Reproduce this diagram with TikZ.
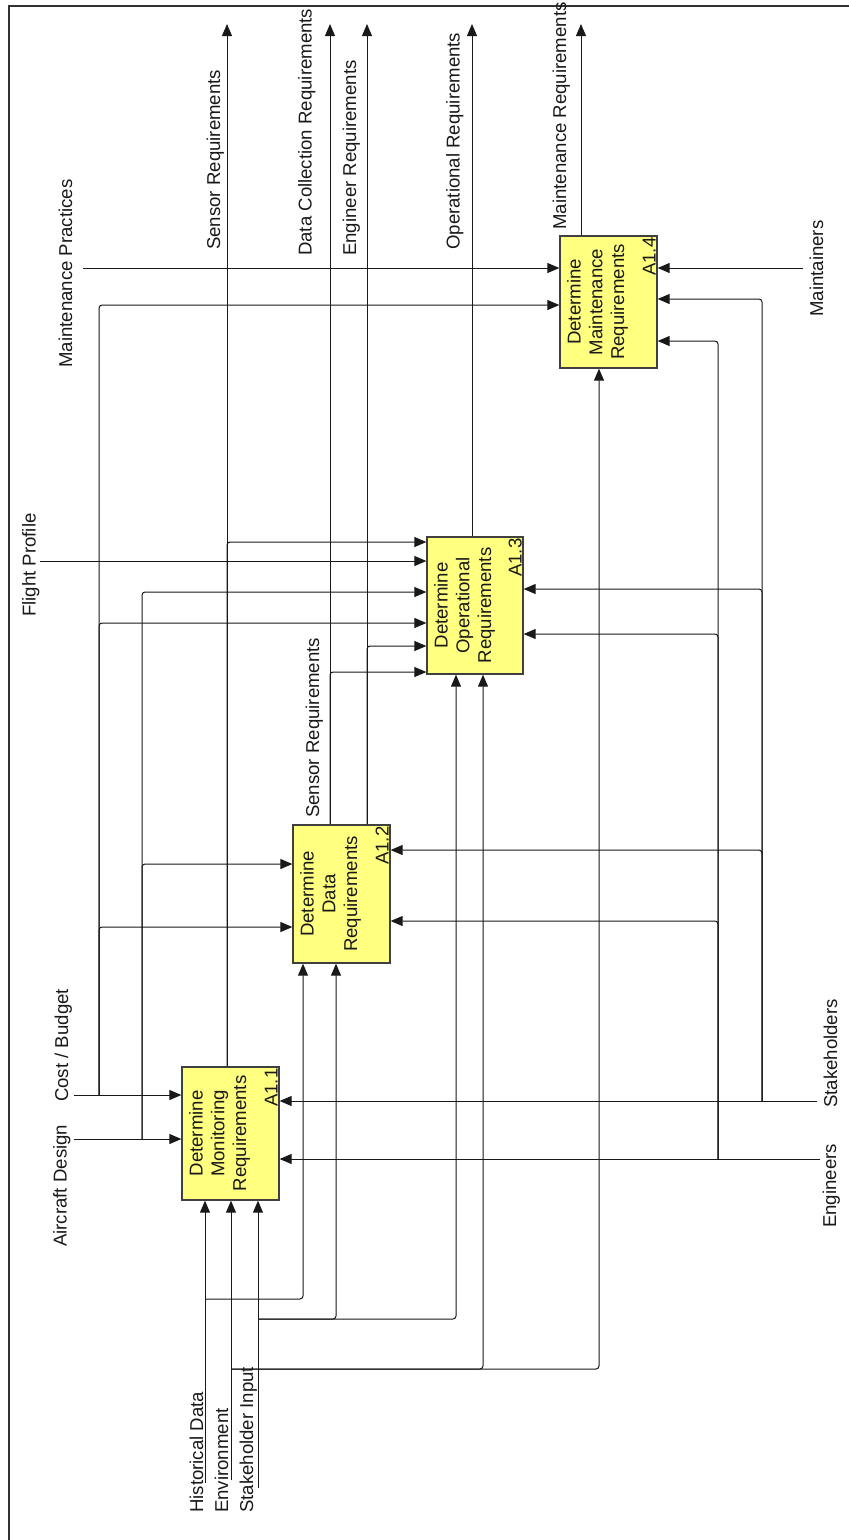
\documentclass[tikz,border=0pt]{standalone}
\usepackage{fontspec}
\setmainfont{Liberation Sans}
\usetikzlibrary{arrows.meta,calc}
\newcommand\idefont{\fontsize{18.6}{21.7}\selectfont}
\definecolor{boxfill}{RGB}{255,255,128}
\definecolor{linec}{RGB}{25,25,25}
\definecolor{framec}{RGB}{50,50,50}
\tikzset{
  lbl/.style={rotate=90, inner sep=0pt, font=\idefont, text=linec},
  btx/.style={rotate=90, inner sep=0pt, font=\idefont, text=linec},
  blk/.style={draw=black!75, fill=boxfill, line width=1.3pt, inner sep=0pt},
  arr/.style={-{Triangle[length=12pt,width=10pt]}, line width=1pt, draw=linec, rounded corners=3pt},
}
\begin{document}
\begin{tikzpicture}[x=1pt,y=-1pt]
\useasboundingbox (0,0) rectangle (849,1540);
\fill[white] (0,0) rectangle (849,1540);
% frame
\draw[framec, line width=2.4pt] (9,1540) -- (9,6) -- (849,6);

% activity boxes
\node[blk, minimum width=97pt, minimum height=133pt] (b1) at (230.5,1133.5) {};
\node[blk, minimum width=97pt, minimum height=138pt] (b2) at (341.5,894) {};
\node[blk, minimum width=96pt, minimum height=137pt] (b3) at (475,605.5) {};
\node[blk, minimum width=97pt, minimum height=132pt] (b4) at (608.5,302) {};

% box texts
\foreach \b/\t/\n in {b1/Monitoring/A1.1, b2/Data/A1.2, b3/Operational/A1.3, b4/Maintenance/A1.4}{
  \node[btx, anchor=base] at ($(\b.west)+(21.3,0)$) {Determine};
  \node[btx, anchor=base] at ($(\b.west)+(43,0)$) {\t};
  \node[btx, anchor=base] at ($(\b.west)+(64.7,0)$) {Requirements};
  \node[btx, anchor=base east] at ($(\b.north east)+(-2,2)$) {\n};
}

% labels
\node[lbl, anchor=base west] (lAD) at (66.5,1247) {Aircraft Design};
\node[lbl, anchor=base west] (lCB) at (68,1102) {Cost / Budget};
\node[lbl, anchor=base west] (lFP) at (35.5,617) {Flight Profile};
\node[lbl, anchor=base west] (lMP) at (72,368) {Maintenance Practices};
\node[lbl, anchor=base west] (lSR) at (220,250) {Sensor Requirements};
\node[lbl, anchor=base west] (lDC) at (311.5,256) {Data Collection Requirements};
\node[lbl, anchor=base west] (lER) at (356,256) {Engineer Requirements};
\node[lbl, anchor=base west] (lOR) at (459.5,250) {Operational Requirements};
\node[lbl, anchor=base west] (lMR) at (566,230) {Maintenance Requirements};
\node[lbl, anchor=base west] (lMa) at (823,317) {Maintainers};
\node[lbl, anchor=base west] (lSt) at (837,1108) {Stakeholders};
\node[lbl, anchor=base west] (lEn) at (836,1228) {Engineers};
\node[lbl, anchor=base west] (lSR2) at (319,818) {Sensor Requirements};
\node[lbl, anchor=base west] (lHD) at (203,1513) {Historical Data};
\node[lbl, anchor=base west] (lEv) at (228,1513) {Environment};
\node[lbl, anchor=base west] (lSI) at (253,1513) {Stakeholder Input};

% free ends
\coordinate (cFP) at (40,561);
\coordinate (cMP) at (83,268);
\coordinate (cCB) at (74,1095);
\coordinate (cAD) at (74,1139);
\coordinate (cMa) at (803,268);
\coordinate (cSt) at (817,1101);
\coordinate (cEn) at (820,1159);
\coordinate (cHD) at (205,1483);
\coordinate (cEv) at (231,1480);
\coordinate (cSI) at (258,1488);
\coordinate (oSR) at (227,24);
\coordinate (oDC) at (330,24);
\coordinate (oER) at (367,24);
\coordinate (oOR) at (472,24);
\coordinate (oMR) at (581,24);
% junctions
\coordinate (jCB) at (99,1095);
\coordinate (jAD) at (142,1139);
\coordinate (jSt) at (762,1101);
\coordinate (jEn) at (718,1159);
\coordinate (jHD) at (205,1299);
\coordinate (jEv) at (231,1369);
\coordinate (jSI) at (258,1319);
% bends
\coordinate (kCB2) at (99,927);
\coordinate (kCB3) at (99,623);
\coordinate (kCB4) at (99,305);
\coordinate (kAD2) at (142,864);
\coordinate (kAD3) at (142,592);
\coordinate (kSR3) at (227,542);
\coordinate (kDC3) at (330,672);
\coordinate (kER3) at (367,646);
\coordinate (kHD2) at (303,1299);
\coordinate (kSI2) at (336,1319);
\coordinate (kSI3) at (456,1319);
\coordinate (kEv3) at (483,1369);
\coordinate (kEv4) at (599,1369);
\coordinate (kSt2) at (762,850);
\coordinate (kSt3) at (762,589);
\coordinate (kSt4) at (762,299);
\coordinate (kEn2) at (718,921);
\coordinate (kEn3) at (718,634);
\coordinate (kEn4) at (718,341);

% controls
\draw[arr] (cAD) -- (cAD -| b1.west);
\draw[arr] (cCB) -- (cCB -| b1.west);
\draw[arr] (cFP) -- (cFP -| b3.west);
\draw[arr] (cMP) -- (cMP -| b4.west);
\draw[arr] (jCB) -- (kCB2) -- (kCB2 -| b2.west);
\draw[arr] (jCB) -- (kCB3) -- (kCB3 -| b3.west);
\draw[arr] (jCB) -- (kCB4) -- (kCB4 -| b4.west);
\draw[arr] (jAD) -- (kAD2) -- (kAD2 -| b2.west);
\draw[arr] (jAD) -- (kAD3) -- (kAD3 -| b3.west);

% outputs
\draw[arr] (oSR |- b1.north) -- (oSR);
\draw[arr] (oDC |- b2.north) -- (oDC);
\draw[arr] (oER |- b2.north) -- (oER);
\draw[arr] (oOR |- b3.north) -- (oOR);
\draw[arr] (oMR |- b4.north) -- (oMR);
\draw[arr] (oSR |- b1.north) -- (kSR3) -- (kSR3 -| b3.west);
\draw[arr] (oDC |- b2.north) -- (kDC3) -- (kDC3 -| b3.west);
\draw[arr] (oER |- b2.north) -- (kER3) -- (kER3 -| b3.west);

% inputs
\draw[arr] (cHD) -- (cHD |- b1.south);
\draw[arr] (cEv) -- (cEv |- b1.south);
\draw[arr] (cSI) -- (cSI |- b1.south);
\draw[arr] (jHD) -- (kHD2) -- (kHD2 |- b2.south);
\draw[arr] (jSI) -- (kSI2) -- (kSI2 |- b2.south);
\draw[arr] (jSI) -- (kSI3) -- (kSI3 |- b3.south);
\draw[arr] (jEv) -- (kEv3) -- (kEv3 |- b3.south);
\draw[arr] (jEv) -- (kEv4) -- (kEv4 |- b4.south);

% mechanisms
\draw[arr] (cMa) -- (cMa -| b4.east);
\draw[arr] (cSt) -- (cSt -| b1.east);
\draw[arr] (cEn) -- (cEn -| b1.east);
\draw[arr] (jSt) -- (kSt2) -- (kSt2 -| b2.east);
\draw[arr] (jSt) -- (kSt3) -- (kSt3 -| b3.east);
\draw[arr] (jSt) -- (kSt4) -- (kSt4 -| b4.east);
\draw[arr] (jEn) -- (kEn2) -- (kEn2 -| b2.east);
\draw[arr] (jEn) -- (kEn3) -- (kEn3 -| b3.east);
\draw[arr] (jEn) -- (kEn4) -- (kEn4 -| b4.east);
\end{tikzpicture}
\end{document}
